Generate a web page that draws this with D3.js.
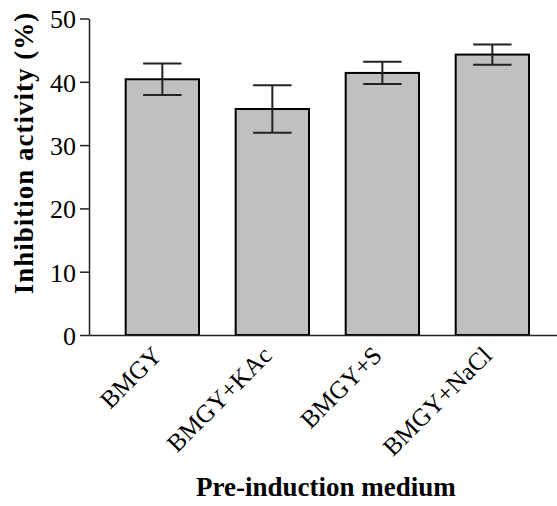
<!DOCTYPE html>
<html>
<head>
<meta charset="UTF-8">
<title>Inhibition activity</title>
<script src="https://d3js.org/d3.v7.min.js"></script>
<style>
  body { margin: 0; background: #fff; }
  text { font-family: "Liberation Serif", "Times New Roman", serif; fill: #000; }
</style>
</head>
<body>
<svg id="chart" width="557" height="506"></svg>
<script>
// data
var media = ["BMGY", "BMGY+KAc", "BMGY+S", "BMGY+NaCl"];
var activity = [40.4, 35.7, 41.4, 44.3];
var errors = [2.5, 3.75, 1.75, 1.6];
var yTicks = [0, 10, 20, 30, 40, 50];

var svg = d3.select("#chart");

var x = d3.scaleBand()
    .domain(media)
    .range([89, 565.7])
    .paddingInner(1 / 3)
    .paddingOuter(1 / 3);

var y = d3.scaleLinear()
    .domain([0, 50])
    .range([335, 18.5]);

// bars
svg.selectAll("rect.bar")
    .data(media)
    .enter().append("rect")
    .attr("class", "bar")
    .attr("x", function (d) { return x(d); })
    .attr("y", function (d, i) { return y(activity[i]); })
    .attr("width", x.bandwidth())
    .attr("height", function (d, i) { return y(0) - y(activity[i]); })
    .style("fill", "#c0c0c0")
    .style("stroke", "#000")
    .style("stroke-width", 2);

// error bars
var capHalf = x.bandwidth() * 0.262;
var err = svg.selectAll("g.err")
    .data(media)
    .enter().append("g")
    .attr("class", "err")
    .style("stroke", "#222")
    .style("stroke-width", 2);

err.append("line")
    .attr("x1", function (d) { return x(d) + x.bandwidth() / 2; })
    .attr("x2", function (d) { return x(d) + x.bandwidth() / 2; })
    .attr("y1", function (d, i) { return y(activity[i] - errors[i]); })
    .attr("y2", function (d, i) { return y(activity[i] + errors[i]); });

err.append("line")
    .attr("x1", function (d) { return x(d) + x.bandwidth() / 2 - capHalf; })
    .attr("x2", function (d) { return x(d) + x.bandwidth() / 2 + capHalf; })
    .attr("y1", function (d, i) { return y(activity[i] + errors[i]); })
    .attr("y2", function (d, i) { return y(activity[i] + errors[i]); });

err.append("line")
    .attr("x1", function (d) { return x(d) + x.bandwidth() / 2 - capHalf; })
    .attr("x2", function (d) { return x(d) + x.bandwidth() / 2 + capHalf; })
    .attr("y1", function (d, i) { return y(activity[i] - errors[i]); })
    .attr("y2", function (d, i) { return y(activity[i] - errors[i]); });

// y axis
var yAxis = svg.append("g")
    .attr("transform", "translate(89,0)")
    .call(d3.axisLeft(y).tickValues(yTicks).tickSize(9).tickPadding(4).tickSizeOuter(0));
yAxis.select(".domain").style("stroke", "#222").style("stroke-width", 1.5);
yAxis.selectAll(".tick line").style("stroke", "#222").style("stroke-width", 1.5);
yAxis.selectAll(".tick text")
    .style("font-family", "'Liberation Serif', serif")
    .style("font-size", "26px")
    .attr("dy", "0.36em");

// x axis line
var xAxis = svg.append("g")
    .attr("transform", "translate(0,335)")
    .call(d3.axisBottom(x).tickSize(0).tickSizeOuter(0).tickFormat(""));
xAxis.select(".domain").style("stroke", "#222").style("stroke-width", 1.5);

// rotated category labels
svg.selectAll("text.cat")
    .data(media)
    .enter().append("text")
    .attr("class", "cat")
    .attr("text-anchor", "end")
    .attr("transform", function (d) {
        return "translate(" + (x(d) + x.bandwidth() / 2 + 1) + ",357) rotate(-45)";
    })
    .style("font-size", "25px")
    .text(function (d) { return d; });

// axis titles
svg.append("text")
    .attr("text-anchor", "middle")
    .attr("transform", "translate(33,153) rotate(-90)")
    .style("font-size", "27px")
    .style("font-weight", "bold")
    .style("letter-spacing", "1px")
    .text("Inhibition activity (%)");

svg.append("text")
    .attr("text-anchor", "middle")
    .attr("x", 326)
    .attr("y", 496)
    .style("font-size", "27px")
    .style("font-weight", "bold")
    .text("Pre-induction medium");
</script>
</body>
</html>
